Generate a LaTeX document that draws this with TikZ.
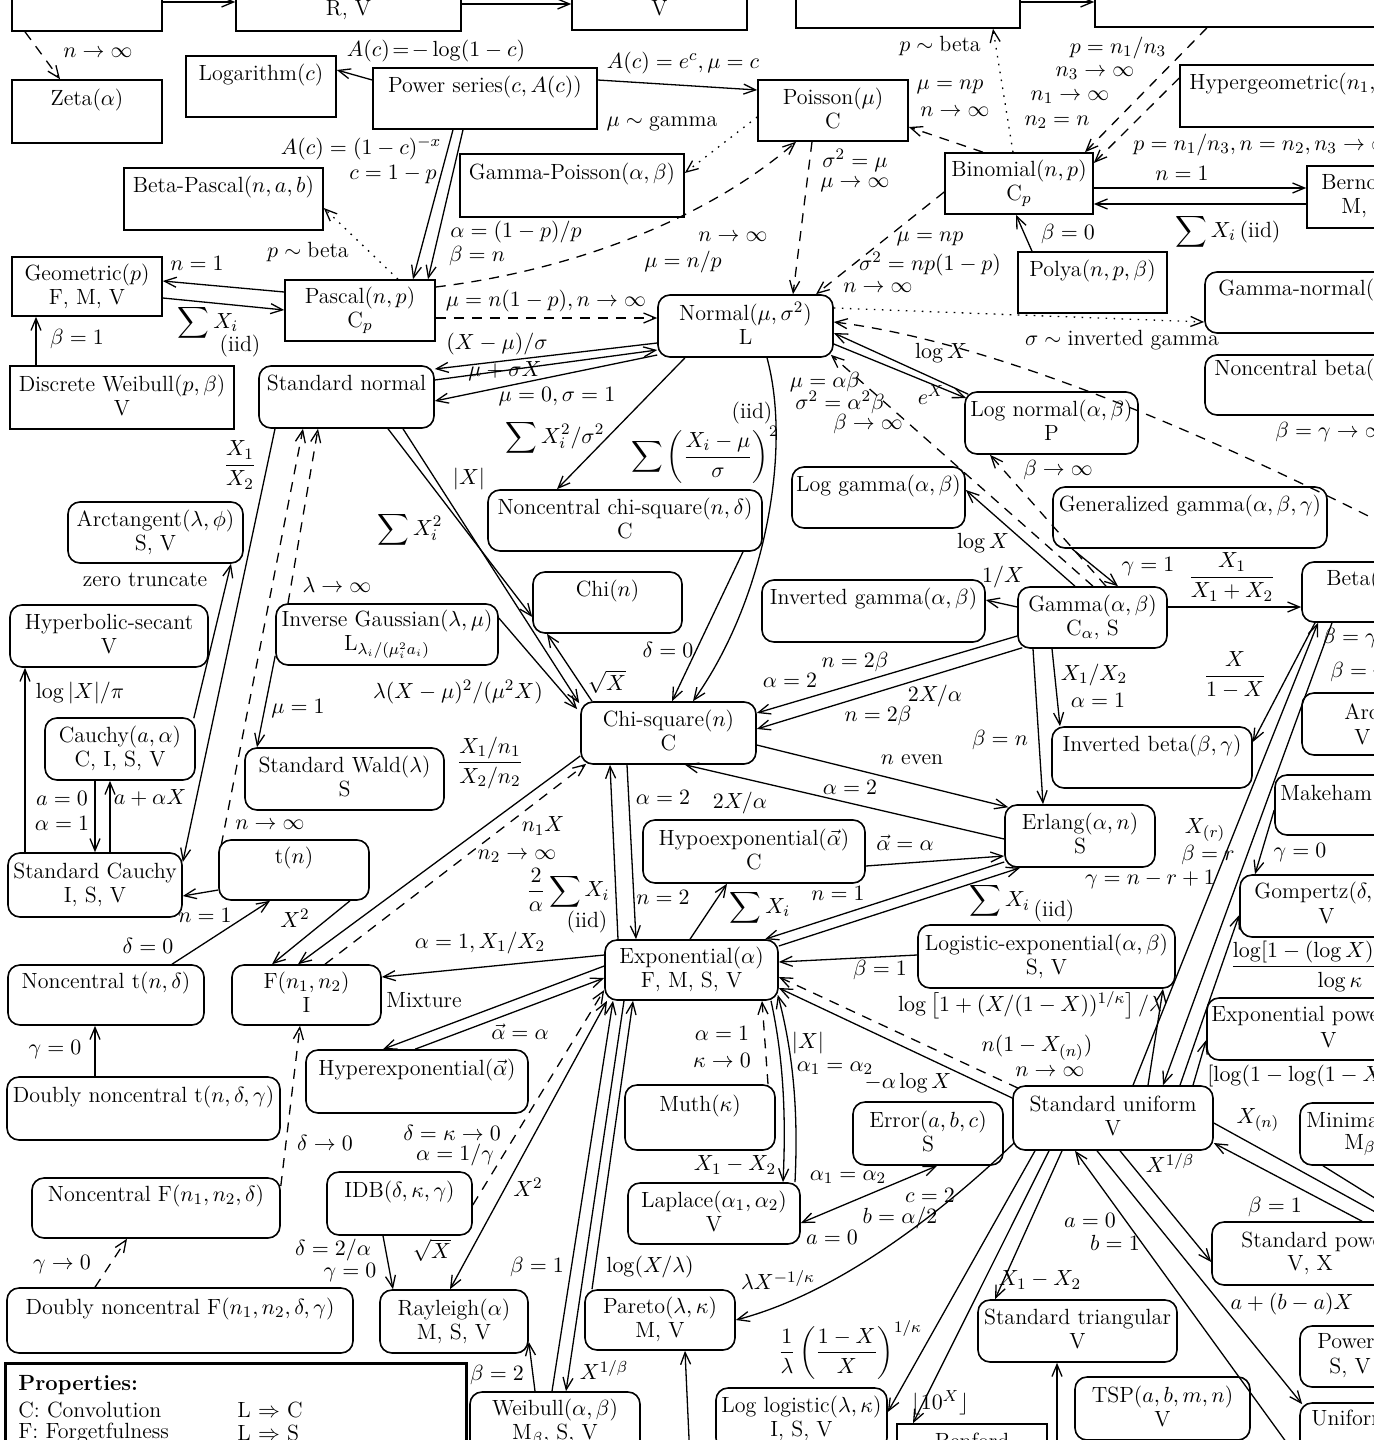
\documentclass[tikz,border=0pt]{standalone}
\usepackage{amsmath,amssymb}
\usetikzlibrary{arrows.meta}
\newcommand\sta{\rule[-3.6pt]{0pt}{9.4pt}}
\newcommand\stb{\rule[-2.6pt]{0pt}{8.4pt}}
\newcommand\mkbox[8]{\node[#1,minimum width={((#5)-(#3))*0.5pt},minimum height={((#6)-(#4))*0.5pt}] (#2) at ({((#3)+(#5))/2},{((#4)+(#6))/2}) {\sta #7\\\stb #8};}
\tikzset{
 every node/.style={font=\fontsize{11}{12}\selectfont},
 box/.style={draw,line width=0.8pt,align=center,inner sep=0pt},
 rbox/.style={box,rounded corners=6pt},
 legbox/.style={box,line width=1.5pt},
 lbl/.style={inner sep=0pt},
 arr/.style={line width=0.65pt,-{Straight Barb[length=6pt,width=5pt]}},
 arrb/.style={line width=0.65pt,{Straight Barb[length=6pt,width=5pt]}-{Straight Barb[length=6pt,width=5pt]}},
 dsh/.style={dash pattern=on 5pt off 4pt},
 dtt/.style={dash pattern=on 0.8pt off 3.2pt},
}
\begin{document}
\begin{tikzpicture}[x=0.5pt,y=-0.5pt]
\useasboundingbox (0,0) rectangle (1374,1440);
\clip (0,0) rectangle (1374,1440);
\fill[white] (0,0) rectangle (1374,1440);
% ---------------- boxes
\mkbox{box}{T1}{12}{-40}{162}{31}{}{}
\mkbox{box}{T2}{236}{-30}{461}{31}{}{R, V}
\mkbox{box}{T3}{572}{-30}{747}{30}{}{V}
\mkbox{box}{T4}{796}{-40}{1020}{28}{}{}
\mkbox{box}{T5}{1095}{-40}{1460}{27}{}{}
\mkbox{box}{Zeta}{12}{80}{162}{143}{Zeta($\alpha$)}{}
\mkbox{box}{Loga}{186}{56}{336}{117}{Logarithm($c$)}{}
\mkbox{box}{PS}{373}{68}{597}{129}{Power series($c,A(c)$)}{}
\mkbox{box}{Poi}{758}{80}{908}{141}{Poisson($\mu$)}{C}
\mkbox{box}{GP}{460}{154}{684}{217}{Gamma-Poisson($\alpha,\beta$)}{}
\mkbox{box}{BP}{124}{168}{323}{230}{Beta-Pascal($n,a,b$)}{}
\mkbox{box}{Bin}{945}{153}{1093}{214}{Binomial($n,p$)}{C$_p$}
\mkbox{box}{Hyp}{1180}{65}{1460}{127}{}{}
\mkbox{box}{Ber}{1307}{166}{1460}{228}{}{}
\mkbox{box}{Geo}{12}{257}{162}{316}{Geometric($p$)}{F, M, V}
\mkbox{box}{Pas}{285}{280}{435}{341}{Pascal($n,p$)}{C$_p$}
\mkbox{box}{Pol}{1018}{252}{1167}{313}{Polya($n,p,\beta$)}{}
\mkbox{box}{DW}{10}{366}{234}{429}{Discrete Weibull($p,\beta$)}{V}
\mkbox{rbox}{Nor}{658}{295}{833}{357}{Normal($\mu,\sigma^2$)}{L}
\mkbox{rbox}{GN}{1205}{272}{1460}{333}{}{}
\mkbox{rbox}{NB}{1205}{355}{1460}{415}{}{}
\mkbox{rbox}{SN}{259}{366}{434}{428}{Standard normal}{}
\mkbox{rbox}{LN}{965}{392}{1138}{454}{Log normal($\alpha,\beta$)}{P}
\mkbox{rbox}{NC}{488}{490}{762}{551}{Noncentral chi-square($n,\delta$)}{C}
\mkbox{rbox}{LG}{792}{467}{965}{528}{Log gamma($\alpha,\beta$)}{}
\mkbox{rbox}{GG}{1053}{487}{1327}{548}{Generalized gamma($\alpha,\beta,\gamma$)}{}
\mkbox{rbox}{Arct}{68}{502}{243}{563}{Arctangent($\lambda,\phi$)}{S, V}
\mkbox{rbox}{Chi}{533}{572}{682}{633}{Chi($n$)}{}
\mkbox{rbox}{IGm}{762}{580}{985}{642}{Inverted gamma($\alpha,\beta$)}{}
\mkbox{rbox}{Gam}{1018}{587}{1167}{648}{Gamma($\alpha,\beta$)}{C$_\alpha$, S}
\mkbox{rbox}{Beta}{1302}{562}{1460}{622}{}{}
\mkbox{rbox}{HS}{10}{605}{208}{667}{Hyperbolic-secant}{V}
\mkbox{rbox}{InvG}{276}{604}{498}{665}{Inverse Gaussian($\lambda,\mu$)}{L$_{\lambda_i/(\mu_i^2a_i)}$}
\mkbox{rbox}{Arcs}{1302}{693}{1460}{755}{}{}
\mkbox{rbox}{Cau}{45}{718}{195}{780}{Cauchy($a,\alpha$)}{C, I, S, V}
\mkbox{rbox}{Chi2}{581}{702}{756}{764}{Chi-square($n$)}{C}
\mkbox{rbox}{IB}{1052}{727}{1252}{788}{Inverted beta($\beta,\gamma$)}{}
\mkbox{rbox}{SW}{245}{748}{444}{810}{Standard Wald($\lambda$)}{S}
\mkbox{rbox}{Mak}{1275}{775}{1460}{835}{}{}
\mkbox{rbox}{Erl}{1005}{805}{1155}{867}{Erlang($\alpha,n$)}{S}
\mkbox{rbox}{Hypo}{643}{820}{865}{883}{Hypoexponential($\vec\alpha$)}{C}
\mkbox{rbox}{tn}{219}{840}{369}{900}{t($n$)}{}
\mkbox{rbox}{SC}{8}{853}{182}{917}{Standard Cauchy}{I, S, V}
\mkbox{rbox}{Gom}{1240}{875}{1460}{937}{}{}
\mkbox{rbox}{LE}{918}{925}{1175}{988}{Logistic-exponential($\alpha,\beta$)}{S, V}
\mkbox{rbox}{Expo}{605}{940}{778}{1000}{Exponential($\alpha$)}{F, M, S, V}
\mkbox{rbox}{NCt}{8}{965}{204}{1025}{Noncentral t($n,\delta$)}{}
\mkbox{rbox}{Fd}{232}{965}{381}{1025}{F($n_1,n_2$)}{I}
\mkbox{rbox}{EP}{1207}{998}{1460}{1060}{}{}
\mkbox{rbox}{HE}{306}{1050}{528}{1113}{Hyperexponential($\vec\alpha$)}{}
\mkbox{rbox}{DNCt}{7}{1077}{280}{1140}{Doubly noncentral t($n,\delta,\gamma$)}{}
\mkbox{rbox}{Muth}{625}{1085}{775}{1150}{Muth($\kappa$)}{}
\mkbox{rbox}{SU}{1013}{1086}{1213}{1150}{Standard uniform}{V}
\mkbox{rbox}{Mini}{1300}{1103}{1460}{1165}{}{}
\mkbox{rbox}{Err}{853}{1102}{1003}{1165}{Error($a,b,c$)}{S}
\mkbox{rbox}{IDB}{327}{1172}{472}{1235}{IDB($\delta,\kappa,\gamma$)}{}
\mkbox{rbox}{NCF}{32}{1178}{280}{1238}{Noncentral F($n_1,n_2,\delta$)}{}
\mkbox{rbox}{Lap}{628}{1183}{800}{1244}{Laplace($\alpha_1,\alpha_2$)}{V}
\mkbox{rbox}{SP}{1212}{1222}{1460}{1285}{}{}
\mkbox{rbox}{DNCF}{7}{1288}{353}{1353}{Doubly noncentral F($n_1,n_2,\delta,\gamma$)}{}
\mkbox{rbox}{Ray}{380}{1290}{528}{1353}{Rayleigh($\alpha$)}{M, S, V}
\mkbox{rbox}{Par}{585}{1290}{735}{1350}{Pareto($\lambda,\kappa$)}{M, V}
\mkbox{rbox}{ST}{978}{1300}{1177}{1362}{Standard triangular}{V}
\mkbox{rbox}{Pow}{1300}{1326}{1460}{1387}{}{}
\mkbox{rbox}{TSP}{1075}{1377}{1250}{1440}{TSP($a,b,m,n$)}{V}
\mkbox{rbox}{LL}{716}{1388}{887}{1450}{Log logistic($\lambda,\kappa$)}{I, S, V}
\mkbox{rbox}{Wei}{470}{1392}{640}{1454}{Weibull($\alpha,\beta$)}{M$_\beta$, S, V}
\mkbox{box}{Ben}{897}{1424}{1047}{1486}{Benford}{}
\mkbox{rbox}{Uni}{1300}{1403}{1460}{1465}{}{}
\mkbox{legbox}{Leg}{5}{1363}{466}{1500}{}{}
% texts of clipped boxes
\node[lbl,anchor=west] (tHyp) at (1189,84) {Hypergeometric($n_1,n_2,n_3$)};
\node[lbl,anchor=west] (tBer1) at (1321,184) {Bernoulli($p$)};
\node[lbl,anchor=west] (tBer2) at (1341,208) {M, V};
\node[lbl,anchor=west] (tGN) at (1218,290) {Gamma-normal($\mu,\sigma$)};
\node[lbl,anchor=west] (tNB) at (1214,370) {Noncentral beta($\beta,\gamma,\delta$)};
\node[lbl,anchor=west] (tBeta) at (1326,580) {Beta($\beta,\gamma$)};
\node[lbl,anchor=west] (tArc1) at (1344,712) {Arcsin};
\node[lbl,anchor=west] (tArc2) at (1354,737) {V};
\node[lbl,anchor=west] (tMak) at (1280,795) {Makeham($\gamma,\delta,\kappa$)};
\node[lbl,anchor=west] (tGom1) at (1254,893) {Gompertz($\delta,\kappa$)};
\node[lbl,anchor=west] (tGom2) at (1318,916) {V};
\node[lbl,anchor=west] (tEP1) at (1211,1016) {Exponential power($\kappa,\lambda$)};
\node[lbl,anchor=west] (tEP2) at (1320,1040) {V};
\node[lbl,anchor=west] (tMin1) at (1306,1122) {Minimax($\beta,\gamma$)};
\node[lbl,anchor=west] (tMin2) at (1344,1145) {M$_\beta$};
\node[lbl,anchor=west] (tSP1) at (1241,1242) {Standard power($\beta$)};
\node[lbl,anchor=west] (tSP2) at (1287,1265) {V, X};
\node[lbl,anchor=west] (tPow1) at (1317,1343) {Power($\alpha,\beta$)};
\node[lbl,anchor=west] (tPow2) at (1329,1368) {S, V};
\node[lbl,anchor=west] (tUni) at (1311,1420) {Uniform($a,b$)};
% legend
\node[lbl,anchor=west] (g1) at (18,1385) {\textbf{Properties:}};
\node[lbl,anchor=west] (g2) at (18,1410) {C: Convolution};
\node[lbl,anchor=west] (g3) at (18,1433) {F: Forgetfulness};
\node[lbl,anchor=west] (g4) at (237,1410) {L $\Rightarrow$ C};
\node[lbl,anchor=west] (g5) at (237,1433) {L $\Rightarrow$ S};
% ---------------- connectors
\coordinate (offB) at (1400,532);
\coordinate (offP) at (690,1460);
\coordinate (offT) at (1057,1460);
\draw[arr] (T1.east|-0,2) -- (T2.west|-0,2);
\draw[arr] (T2.east|-0,4) -- (T3.west|-0,4);
\draw[arr] (T4.east|-0,2) -- (T5.west|-0,2);
\draw[arr,dsh] (T1.south-|25,0) -- (Zeta.north-|60,0);
\draw[arr] (PS.west|-0,80) -- (Loga.east|-0,70);
\draw[arr] (PS.east|-0,80) -- (Poi.west|-0,90);
\draw[arr,dtt] (Poi.west|-0,117) -- (GP.east|-0,173);
\draw[arr] (PS.south-|453,0) -- (Pas.north-|413,0);
\draw[arr] (PS.south-|463,0) -- (Pas.north-|428,0);
\draw[arr,dtt] (Pas.north-|398,0) -- (BP.east|-0,208);
\draw[arr] (Pas.west|-0,292) -- (Geo.east|-0,281);
\draw[arr] (Geo.east|-0,298) -- (Pas.west|-0,310);
\draw[arr] (DW.north-|36,0) -- (Geo.south-|36,0);
\draw[arr,dsh] (Pas.east|-0,287) .. controls (560,272) and (700,225) .. (Poi.south-|796,0);
\draw[arr,dsh] (Pas.east|-0,318) -- (Nor.west|-0,318);
\draw[arr,dsh] (Poi.south-|812,0) -- (Nor.north-|793,0);
\draw[arr,dsh] (Bin.north-|983,0) -- (Poi.east|-0,127);
\draw[arr,dtt] (Bin.north-|1013,0) -- (T4.south-|993,0);
\draw[arr,dsh] (T5.south-|1207,0) -- (Bin.north-|1085,0);
\draw[arr,dsh] (Hyp.west|-0,78) -- (Bin.east|-0,163);
\draw[arr] (Bin.east|-0,188) -- (Ber.west|-0,188);
\draw[arr] (Ber.west|-0,204) -- (Bin.east|-0,204);
\draw[arr] (Pol.north-|1032,0) -- (Bin.south-|1016,0);
\draw[arr,dsh] (Bin.west|-0,192) -- (Nor.north-|816,0);
\draw[arr,dtt] (Nor.east|-0,308) -- (GN.west|-0,322);
\draw[arr,dsh] (offB) .. controls (1180,420) and (980,340) .. (Nor.east|-0,322);
\draw[arr] ([shift={(4,3)}]LN.north west) -- (Nor.east|-0,333);
\draw[arr] (Nor.east|-0,344) -- ([shift={(2,7)}]LN.north west);
\draw[arr,dsh] (Gam.north-|1093,0) -- ([shift={(-3,-3)}]Nor.south east);
\draw[arr,dsh] (Gam.north-|1106,0) -- (LN.south-|990,0);
\draw[arr] (Gam.north-|1075,0) -- (LG.east|-0,490);
\draw[arr] (GG.south-|1072,0) -- (Gam.north-|1118,0);
\draw[arr] (Gam.west|-0,607) -- (IGm.east|-0,600);
\draw[arr] (Gam.east|-0,607) -- (Beta.west|-0,607);
\draw[arr] (Gam.west|-0,636) -- (Chi2.east|-0,713);
\draw[arr] ([shift={(5,-1)}]Gam.south west) -- (Chi2.east|-0,729);
\draw[arr] (Gam.south-|1052,0) -- (IB.north-|1060,0);
\draw[arr] (Gam.south-|1033,0) -- (Erl.north-|1043,0);
\draw[arr] (Beta.south-|1315,0) -- (IB.east|-0,742);
\draw[arr] (SU.north-|1133,0) -- (Beta.south-|1318,0);
\draw[arr] (Beta.south-|1332,0) -- (SU.north-|1163,0);
\draw[arr] (SU.north-|1180,0) -- (Gom.west|-0,915);
\draw[arr] (SU.north-|1193,0) -- (EP.west|-0,1040);
\draw[arr] (SU.north-|1148,0) -- (LE.south-|1163,0);
\draw[arr] (Mak.west|-0,810) -- (Gom.north-|1255,0);
\draw[arr] (Chi2.east|-0,745) -- ([shift={(4,3)}]Erl.north west);
\draw[arr] (Erl.west|-0,839) -- (Chi2.south-|685,0);
\draw[arr] (Hypo.east|-0,866) -- (Erl.west|-0,856);
\draw[arr] (Erl.west|-0,862) -- (Expo.north-|765,0);
\draw[arr] (Expo.east|-0,946) -- (Erl.south-|1020,0);
\draw[arr] (Expo.north-|690,0) -- (Hypo.south-|727,0);
\draw[arr] (Expo.north-|618,0) -- (Chi2.south-|610,0);
\draw[arr] (Chi2.south-|627,0) -- (Expo.north-|636,0);
\draw[arr] (LE.west|-0,955) -- (Expo.east|-0,962);
\draw[arr] (SU.west|-0,1098) -- (Expo.east|-0,988);
\draw[arr,dsh] ([shift={(6,3)}]SU.north west) -- (Expo.east|-0,977);
\draw[arr] (Expo.west|-0,955) -- (Fd.east|-0,977);
\draw[arr] (Expo.west|-0,966) -- (HE.north-|383,0);
\draw[arr] (HE.north-|415,0) -- (Expo.west|-0,978);
\draw[arr,dsh] (IDB.east|-0,1205) -- (Expo.west|-0,990);
\draw[arrb] (Expo.south-|607,0) -- (Ray.north-|450,0);
\draw[arr] (Wei.north-|552,0) -- (Expo.south-|613,0);
\draw[arr] (Expo.south-|624,0) -- (Wei.north-|566,0);
\draw[arr] (Par.north-|592,0) -- (Expo.south-|633,0);
\draw[arr] (Wei.north-|535,0) -- (Ray.east|-0,1342);
\draw[arr] (IDB.south-|383,0) -- (Ray.north-|393,0);
\draw[arr] (offP) -- (Par.south-|685,0);
\draw[arr] ([shift={(2,-8)}]SU.south west) .. controls (960,1195) and (850,1290) .. (Par.east|-0,1320);
\draw[arr] (Expo.south-|771,0) .. controls (784,1060) and (786,1120) .. (Lap.north-|783,0);
\draw[arr] (Lap.north-|795,0) .. controls (798,1120) and (795,1060) .. ([shift={(-1,-6)}]Expo.south east);
\draw[arr,dsh] (Muth.north-|768,0) -- (Expo.south-|762,0);
\draw[arrb] (Err.south-|937,0) -- (Lap.east|-0,1223);
\draw[arr] (SU.south-|1035,0) -- (LL.east|-0,1412);
\draw[arr] (SU.south-|1049,0) -- (Ben.north-|913,0);
\draw[arr] (SU.south-|1062,0) -- (ST.north-|995,0);
\draw[arr] (offT) -- (ST.south-|1057,0);
\draw[arr] (Uni.west|-0,1460) -- (SU.south-|1075,0);
\draw[arr] (SU.south-|1097,0) -- ([shift={(3,2)}]Uni.north west);
\draw[arr] (SU.south-|1120,0) -- (SP.west|-0,1262);
\draw[arr] (SP.north-|1362,0) -- (SU.east|-0,1143);
\draw[arr] (SU.east|-0,1123) -- (SP.north-|1392,0);
\draw[arr] (Mini.south-|1323,0) -- (SP.north-|1412,0);
\draw[arr] (Nor.west|-0,343) -- (SN.east|-0,369);
\draw[arr] (SN.east|-0,380) -- (Nor.west|-0,350);
\draw[arr] (Nor.west|-0,355) -- (SN.east|-0,401);
\draw[arr] (Nor.south-|685,0) -- (NC.north-|557,0);
\draw[arr] (Nor.south-|767,0) .. controls (792,450) and (765,600) .. (Chi2.north-|693,0);
\draw[arr] (NC.south-|743,0) -- (Chi2.north-|672,0);
\draw[arr] (SN.south-|388,0) -- (Chi.west|-0,617);
\draw[arr] (SN.south-|403,0) -- ([shift={(-1,2)}]Chi2.north west);
\draw[arr] (Chi2.north-|592,0) -- (Chi.south-|547,0);
\draw[arr] (InvG.east|-0,618) -- ([shift={(-3,8)}]Chi2.north west);
\draw[arr] (SN.south-|275,0) -- (SC.east|-0,862);
\draw[arr,dsh] ([shift={(3,6)}]tn.north west) -- (SN.south-|303,0);
\draw[arr,dsh] (InvG.north-|288,0) -- (SN.south-|318,0);
\draw[arr] ([shift={(0,-10)}]InvG.south west) -- (SW.north-|257,0);
\draw[arr] ([shift={(-2,1)}]Cau.north east) -- (Arct.south-|231,0);
\draw[arr] (SC.north-|25,0) -- (HS.south-|25,0);
\draw[arr] (Cau.south-|95,0) -- (SC.north-|95,0);
\draw[arr] (SC.north-|110,0) -- (Cau.south-|110,0);
\draw[arr] (tn.west|-0,890) -- (SC.east|-0,896);
\draw[arr] (NCt.north-|172,0) -- (tn.south-|270,0);
\draw[arr] (tn.south-|350,0) -- (Fd.north-|272,0);
\draw[arr] (Chi2.west|-0,756) -- (Fd.north-|298,0);
\draw[arr,dsh] (Fd.north-|325,0) -- ([shift={(6,-1)}]Chi2.south west);
\draw[arr,dsh] (NCF.east|-0,1186) -- (Fd.south-|300,0);
\draw[arr] (DNCt.north-|95,0) -- (NCt.south-|95,0);
\draw[arr,dsh] (DNCF.north-|95,0) -- (NCF.south-|127,0);
% ---------------- labels
\node[lbl] (l1) at (98,53) {$n\to\infty$};
\node[lbl] (l2) at (436,51) {$A(c)\!=\!-\log(1-c)$};
\node[lbl] (l3) at (683,63) {$A(c)=e^c,\mu=c$};
\node[lbl] (l4) at (662,124) {$\mu\sim\text{gamma}$};
\node[lbl] (l5) at (940,46) {$p\sim\text{beta}$};
\node[lbl] (l6) at (950,87) {$\mu=np$};
\node[lbl] (l7) at (955,112) {$n\to\infty$};
\node[lbl] (l8) at (1118,48) {$p=n_1/n_3$};
\node[lbl] (l9) at (1095,73) {$n_3\to\infty$};
\node[lbl] (l10) at (1070,97) {$n_1\to\infty$};
\node[lbl] (l11) at (1057,122) {$n_2=n$};
\node[lbl,anchor=west] (l12) at (1133,145) {$p=n_1/n_3,n=n_2,n_3\to\infty$};
\node[lbl] (l13) at (361,148) {$A(c)=(1-c)^{-x}$};
\node[lbl] (l14) at (393,175) {$c=1-p$};
\node[lbl] (l15) at (855,160) {$\sigma^2=\mu$};
\node[lbl] (l16) at (855,185) {$\mu\to\infty$};
\node[lbl] (l17) at (1182,173) {$n=1$};
\node[lbl] (l18) at (1228,232) {$\displaystyle\sum X_i\,(\text{iid})$};
\node[lbl] (l19) at (1068,234) {$\beta=0$};
\node[lbl] (l20) at (516,232) {$\alpha=(1-p)/p$};
\node[lbl] (l21) at (477,256) {$\beta=n$};
\node[lbl] (l22) at (733,237) {$n\to\infty$};
\node[lbl] (l23) at (683,262) {$\mu=n/p$};
\node[lbl] (l24) at (308,252) {$p\sim\text{beta}$};
\node[lbl] (l25) at (197,263) {$n=1$};
\node[lbl] (l26) at (930,239) {$\mu=np$};
\node[lbl] (l27) at (930,264) {$\sigma^2=np(1-p)$};
\node[lbl] (l28) at (878,288) {$n\to\infty$};
\node[lbl] (l29) at (546,301) {$\mu=n(1-p),n\to\infty$};
\node[lbl] (l30) at (208,323) {$\displaystyle\sum X_i$};
\node[lbl] (l31) at (240,346) {(iid)};
\node[lbl] (l32) at (77,339) {$\beta=1$};
\node[lbl] (l33) at (497,344) {$(X-\mu)/\sigma$};
\node[lbl] (l34) at (505,371) {$\mu+\sigma X$};
\node[lbl] (l35) at (557,397) {$\mu=0,\sigma=1$};
\node[lbl] (l36) at (1122,340) {$\sigma\sim\text{inverted gamma}$};
\node[lbl] (l37) at (941,353) {$\log X$};
\node[lbl] (l38) at (931,395) {$e^X$};
\node[lbl] (l39) at (825,382) {$\mu=\alpha\beta$};
\node[lbl] (l40) at (840,402) {$\sigma^2=\alpha^2\beta$};
\node[lbl] (l41) at (868,424) {$\beta\to\infty$};
\node[lbl] (l42) at (752,413) {(iid)};
\node[lbl] (l43) at (705,455) {$\displaystyle\sum\left(\frac{X_i-\mu}{\sigma}\right)^{2}$};
\node[lbl] (l44) at (555,438) {$\displaystyle\sum X_i^2/\sigma^2$};
\node[lbl] (l45) at (469,479) {$|X|$};
\node[lbl] (l46) at (240,465) {$\dfrac{X_1}{X_2}$};
\node[lbl] (l47) at (410,530) {$\displaystyle\sum X_i^2$};
\node[lbl,anchor=west] (l48) at (1275,432) {$\beta=\gamma\to\infty$};
\node[lbl] (l49) at (1058,470) {$\beta\to\infty$};
\node[lbl] (l50) at (983,543) {$\log X$};
\node[lbl] (l51) at (1148,567) {$\gamma=1$};
\node[lbl] (l52) at (1003,577) {$1/X$};
\node[lbl] (l53) at (1232,577) {$\dfrac{X_1}{X_1+X_2}$};
\node[lbl] (l54) at (145,580) {zero truncate};
\node[lbl] (l55) at (337,585) {$\lambda\to\infty$};
\node[lbl] (l56) at (668,650) {$\delta=0$};
\node[lbl] (l57) at (855,662) {$n=2\beta$};
\node[lbl] (l58) at (790,680) {$\alpha=2$};
\node[lbl] (l59) at (1235,675) {$\dfrac{X}{1-X}$};
\node[lbl] (l60) at (607,682) {$\sqrt{X}$};
\node[lbl] (l61) at (458,692) {$\lambda(X-\mu)^2/(\mu^2X)$};
\node[lbl] (l62) at (80,693) {$\log|X|/\pi$};
\node[lbl] (l63) at (935,696) {$2X/\alpha$};
\node[lbl] (l64) at (1094,675) {$X_1/X_2$};
\node[lbl] (l65) at (1098,700) {$\alpha=1$};
\node[lbl] (l66) at (298,709) {$\mu=1$};
\node[lbl] (l67) at (878,716) {$n=2\beta$};
\node[lbl,anchor=west] (l68) at (1322,638) {$\beta=\gamma=1/2$};
\node[lbl,anchor=west] (l69) at (1330,672) {$\beta=\gamma=1$};
\node[lbl] (l70) at (1000,740) {$\beta=n$};
\node[lbl] (l71) at (912,760) {$n$ even};
\node[lbl] (l72) at (490,763) {$\dfrac{X_1/n_1}{X_2/n_2}$};
\node[lbl] (l73) at (850,787) {$\alpha=2$};
\node[lbl] (l74) at (663,797) {$\alpha=2$};
\node[lbl] (l75) at (740,803) {$2X/\alpha$};
\node[lbl] (l76) at (62,798) {$a=0$};
\node[lbl] (l77) at (62,823) {$\alpha=1$};
\node[lbl] (l78) at (150,798) {$a+\alpha X$};
\node[lbl] (l79) at (270,825) {$n\to\infty$};
\node[lbl] (l80) at (543,826) {$n_1X$};
\node[lbl] (l81) at (517,856) {$n_2\to\infty$};
\node[lbl] (l82) at (1205,830) {$X_{(r)}$};
\node[lbl] (l83) at (1208,855) {$\beta=r$};
\node[lbl] (l84) at (1150,880) {$\gamma=n-r+1$};
\node[lbl] (l85) at (905,843) {$\vec\alpha=\alpha$};
\node[lbl] (l86) at (1300,853) {$\gamma=0$};
\node[lbl] (l87) at (568,890) {$\dfrac{2}{\alpha}\displaystyle\sum X_i$};
\node[lbl] (l88) at (587,922) {(iid)};
\node[lbl] (l89) at (663,897) {$n=2$};
\node[lbl] (l90) at (760,908) {$\displaystyle\sum X_i$};
\node[lbl] (l91) at (838,893) {$n=1$};
\node[lbl] (l92) at (1022,903) {$\displaystyle\sum X_i$\raisebox{-5pt}{\,(iid)}};
\node[lbl] (l93) at (205,915) {$n=1$};
\node[lbl] (l94) at (295,918) {$X^2$};
\node[lbl] (l95) at (148,946) {$\delta=0$};
\node[lbl] (l96) at (480,943) {$\alpha=1,X_1/X_2$};
\node[lbl,anchor=west] (l97) at (1230,966) {$\dfrac{\log[1-(\log X)(1-\kappa)]}{\log\kappa}$};
\node[lbl] (l98) at (880,970) {$\beta=1$};
\node[lbl] (l99) at (424,1000) {Mixture};
\node[lbl] (l100) at (1030,1005) {$\log\left[1+(X/(1-X))^{1/\kappa}\right]/\lambda$};
\node[lbl] (l101) at (520,1032) {$\vec\alpha=\alpha$};
\node[lbl] (l102) at (722,1033) {$\alpha=1$};
\node[lbl] (l103) at (722,1060) {$\kappa\to0$};
\node[lbl] (l104) at (808,1043) {$|X|$};
\node[lbl] (l105) at (835,1068) {$\alpha_1=\alpha_2$};
\node[lbl] (l106) at (1037,1048) {$n(1-X_{(n)})$};
\node[lbl] (l107) at (1050,1072) {$n\to\infty$};
\node[lbl] (l108) at (55,1050) {$\gamma=0$};
\node[lbl,anchor=west] (l109) at (1207,1074) {$[\log(1-\log(1-X))]^{1/\kappa}$};
\node[lbl] (l110) at (908,1083) {$-\alpha\log X$};
\node[lbl] (l111) at (1258,1120) {$X_{(n)}$};
\node[lbl] (l112) at (325,1143) {$\delta\to0$};
\node[lbl] (l113) at (452,1133) {$\delta=\kappa\to0$};
\node[lbl] (l114) at (455,1155) {$\alpha=1/\gamma$};
\node[lbl] (l115) at (1170,1163) {$X^{1/\beta}$};
\node[lbl] (l116) at (735,1165) {$X_1-X_2$};
\node[lbl] (l117) at (848,1177) {$\alpha_1=\alpha_2$};
\node[lbl] (l118) at (528,1187) {$X^2$};
\node[lbl] (l119) at (930,1195) {$c=2$};
\node[lbl] (l120) at (1275,1207) {$\beta=1$};
\node[lbl] (l121) at (900,1218) {$b=\alpha/2$};
\node[lbl] (l122) at (1090,1220) {$a=0$};
\node[lbl] (l123) at (1115,1243) {$b=1$};
\node[lbl] (l124) at (832,1237) {$a=0$};
\node[lbl] (l125) at (333,1250) {$\delta=2/\alpha$};
\node[lbl] (l126) at (350,1273) {$\gamma=0$};
\node[lbl] (l127) at (432,1250) {$\sqrt X$};
\node[lbl] (l128) at (62,1265) {$\gamma\to0$};
\node[lbl] (l129) at (537,1267) {$\beta=1$};
\node[lbl] (l130) at (650,1267) {$\log(X/\lambda)$};
\node[lbl] (l131) at (778,1280) {$\lambda X^{-1/\kappa}$};
\node[lbl] (l132) at (1040,1280) {$X_1-X_2$};
\node[lbl] (l133) at (1292,1304) {$a+(b-a)X$};
\node[lbl] (l134) at (850,1350) {$\dfrac{1}{\lambda}\left(\dfrac{1-X}{X}\right)^{1/\kappa}$};
\node[lbl] (l135) at (497,1375) {$\beta=2$};
\node[lbl] (l136) at (604,1370) {$X^{1/\beta}$};
\node[lbl] (l137) at (940,1403) {$\lfloor10^X\rfloor$};
\end{tikzpicture}
\end{document}
